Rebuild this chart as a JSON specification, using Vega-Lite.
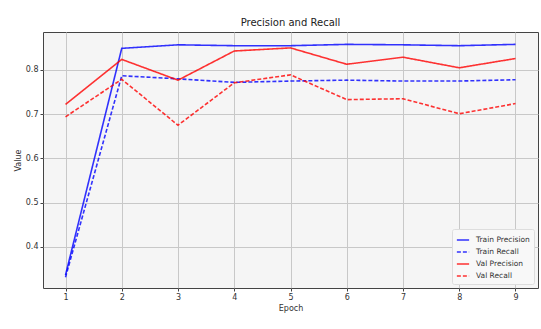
{
  "$schema": "https://vega.github.io/schema/vega-lite/v6.json",
  "width": 495,
  "height": 256,
  "autosize": {"type": "none"},
  "padding": {"left": 43, "top": 32, "right": 3, "bottom": 41},
  "background": "#ffffff",
  "title": {"text": "Precision and Recall", "font": "DejaVu Sans", "fontSize": 10, "fontWeight": "normal", "color": "#222", "offset": 4},
  "config": {
    "view": {"fill": "#f5f5f5", "stroke": "#444", "strokeWidth": 1},
    "axis": {"labelFont": "DejaVu Sans", "titleFont": "DejaVu Sans", "labelFontSize": 8, "titleFontSize": 8, "titleFontWeight": "normal", "labelColor": "#333", "titleColor": "#333", "gridColor": "#c8c8c8", "gridWidth": 1, "tickColor": "#444", "tickSize": 3, "domain": false}
  },
  "data": {"values": [
    {"epoch": 1, "series": "Train Precision", "value": 0.336},
    {"epoch": 2, "series": "Train Precision", "value": 0.849},
    {"epoch": 3, "series": "Train Precision", "value": 0.857},
    {"epoch": 4, "series": "Train Precision", "value": 0.855},
    {"epoch": 5, "series": "Train Precision", "value": 0.855},
    {"epoch": 6, "series": "Train Precision", "value": 0.858},
    {"epoch": 7, "series": "Train Precision", "value": 0.857},
    {"epoch": 8, "series": "Train Precision", "value": 0.855},
    {"epoch": 9, "series": "Train Precision", "value": 0.858},
    {"epoch": 1, "series": "Train Recall", "value": 0.331},
    {"epoch": 2, "series": "Train Recall", "value": 0.787},
    {"epoch": 3, "series": "Train Recall", "value": 0.780},
    {"epoch": 4, "series": "Train Recall", "value": 0.772},
    {"epoch": 5, "series": "Train Recall", "value": 0.775},
    {"epoch": 6, "series": "Train Recall", "value": 0.777},
    {"epoch": 7, "series": "Train Recall", "value": 0.775},
    {"epoch": 8, "series": "Train Recall", "value": 0.775},
    {"epoch": 9, "series": "Train Recall", "value": 0.778},
    {"epoch": 1, "series": "Val Precision", "value": 0.722},
    {"epoch": 2, "series": "Val Precision", "value": 0.824},
    {"epoch": 3, "series": "Val Precision", "value": 0.777},
    {"epoch": 4, "series": "Val Precision", "value": 0.843},
    {"epoch": 5, "series": "Val Precision", "value": 0.850},
    {"epoch": 6, "series": "Val Precision", "value": 0.813},
    {"epoch": 7, "series": "Val Precision", "value": 0.829},
    {"epoch": 8, "series": "Val Precision", "value": 0.805},
    {"epoch": 9, "series": "Val Precision", "value": 0.826},
    {"epoch": 1, "series": "Val Recall", "value": 0.694},
    {"epoch": 2, "series": "Val Recall", "value": 0.779},
    {"epoch": 3, "series": "Val Recall", "value": 0.675},
    {"epoch": 4, "series": "Val Recall", "value": 0.771},
    {"epoch": 5, "series": "Val Recall", "value": 0.789},
    {"epoch": 6, "series": "Val Recall", "value": 0.733},
    {"epoch": 7, "series": "Val Recall", "value": 0.735},
    {"epoch": 8, "series": "Val Recall", "value": 0.701},
    {"epoch": 9, "series": "Val Recall", "value": 0.724}
  ]},
  "mark": {"type": "line", "strokeWidth": 1.6, "opacity": 0.8, "clip": true},
  "encoding": {
    "x": {"field": "epoch", "type": "quantitative", "title": "Epoch", "scale": {"domain": [0.6, 9.4], "nice": false, "zero": false}, "axis": {"values": [1,2,3,4,5,6,7,8,9], "format": "d", "titlePadding": 3, "titleAnchor": "middle"}},
    "y": {"field": "value", "type": "quantitative", "title": "Value", "scale": {"domain": [0.3066, 0.886], "nice": false, "zero": false}, "axis": {"values": [0.4, 0.5, 0.6, 0.7, 0.8], "format": ".1f", "titlePadding": 3}},
    "color": {"field": "series", "type": "nominal", "scale": {"domain": ["Train Precision", "Train Recall", "Val Precision", "Val Recall"], "range": ["#0000ff", "#0000ff", "#ff0000", "#ff0000"]}, "legend": {"title": null, "orient": "bottom-right", "offset": 4, "labelFont": "DejaVu Sans", "labelFontSize": 7.5, "labelColor": "#333", "labelOffset": 6, "symbolType": "stroke", "symbolSize": 150, "symbolStrokeWidth": 1.6, "symbolOpacity": 0.8, "rowPadding": 1, "fillColor": "#f8f8f8", "strokeColor": "#dddddd", "padding": 4, "cornerRadius": 2}},
    "strokeDash": {"field": "series", "type": "nominal", "scale": {"domain": ["Train Precision", "Train Recall", "Val Precision", "Val Recall"], "range": [[1, 0], [4, 2], [1, 0], [4, 2]]}, "legend": null}
  }
}
